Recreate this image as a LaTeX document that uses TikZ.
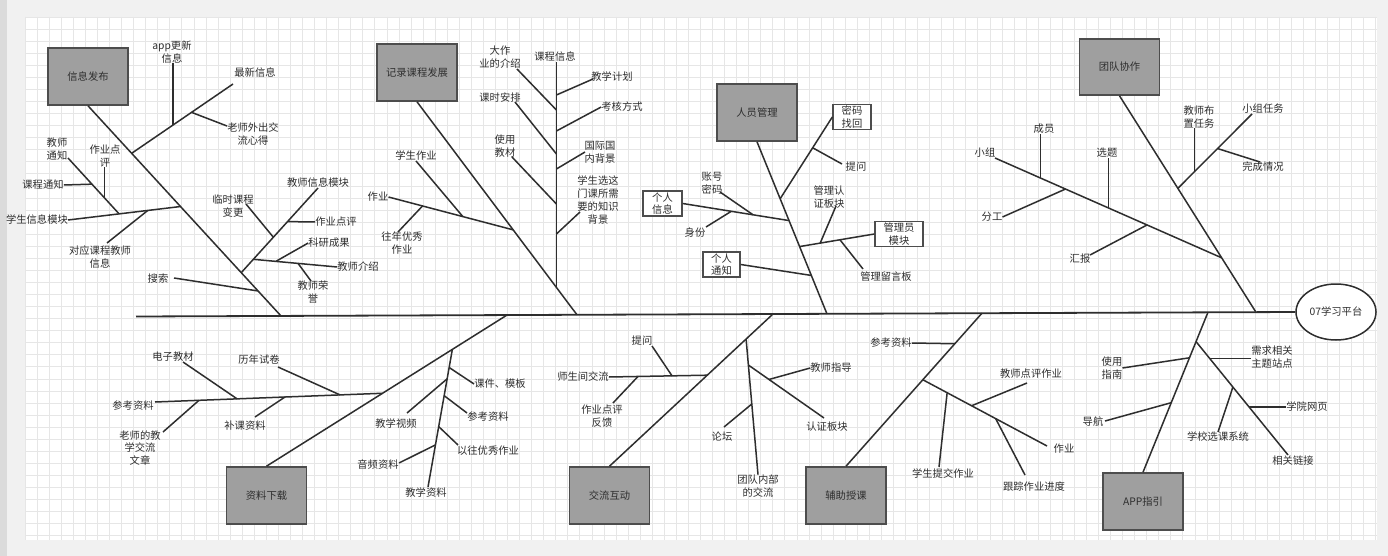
\documentclass[tikz,border=0pt]{standalone}
\usepackage{fontspec}
\newfontfamily\cjk{Noto Sans CJK SC}
\usepackage{tikz}
\usetikzlibrary{calc,positioning,shapes}
\definecolor{boxgray}{HTML}{9F9F9F}
\definecolor{edgegray}{HTML}{4D4D4D}
\definecolor{ink}{HTML}{2E2E2E}
\definecolor{gridgray}{HTML}{E6E6E6}
\definecolor{paper}{HTML}{F1F1F1}

\begin{document}
\begin{tikzpicture}[x=1pt,y=-1pt,
cat/.style={draw=edgegray,line width=1.6pt,fill=boxgray,minimum width=80pt,minimum height=57pt,font=\cjk\fontsize{10.3}{12.8}\selectfont,text=ink},
lbl/.style={font=\cjk\fontsize{10.3}{12.8}\selectfont,text=ink,align=center,inner sep=0pt},
tbox/.style={lbl,draw=edgegray,line width=1.4pt,fill=white,minimum height=25pt},
bone/.style={draw=ink,line width=1.5pt},
gridline/.style={draw=gridgray,line width=0.6pt}]
\useasboundingbox (0,0) rectangle (1388,556);
\fill[paper] (0,0) rectangle (1388,556);
\fill[black!14] (0,0) rectangle (7,556);
\fill[white] (25,17) rectangle (1377,540);
\foreach \i in {0,...,112}
  \draw[gridline] ({25+\i*12.06},17) -- ({25+\i*12.06},540);
\foreach \i in {0,...,43}
  \draw[gridline] (25,{17+\i*12.06}) -- (1377,{17+\i*12.06});

\node (plat) at (1336,312)[lbl,ellipse,draw=ink,line width=1.5pt,fill=white,minimum width=80pt,minimum height=56pt] {07学习平台};
\coordinate (tail) at (136,316.5);
\draw[bone,line width=1.8pt] (tail) -- (plat.west);

\node (info) at (88,76.5)[cat] {信息发布};
\coordinate (s1) at ($(tail)!(281,315)!(plat.west)$);
\draw[bone] (info.south) -- (s1);

\node (l1a) at (255,73)[lbl] {最新信息};
\node (l1b) at (172,52)[lbl] {app更新\\信息};
\node (l1c) at (253,134)[lbl] {老师外出交\\流心得};
\coordinate (j1a) at ($(info.south)!(132,153)!(s1)$);
\coordinate (e1a) at (233,84);
\draw[bone] (j1a) -- (e1a);
\coordinate (k1a) at ($(j1a)!(172,124)!(e1a)$);
\draw[bone] (k1a) -- (k1a |- l1b.south);
\coordinate (k1b) at ($(j1a)!(192,113)!(e1a)$);
\coordinate (e1b) at (227,126);
\draw[bone] (k1b) -- (e1b);

\node (l1d) at (37,220)[lbl] {学生信息模块};
\node (l1e) at (57,149)[lbl] {教师\\通知};
\node (l1f) at (43,185)[lbl] {课程通知};
\node (l1g) at (105,156)[lbl] {作业点\\评};
\node (l1h) at (100,257)[lbl] {对应课程教师\\信息};
\coordinate (j1b) at ($(info.south)!(180,207)!(s1)$);
\draw[bone] (j1b) -- (l1d.east);
\coordinate (k1c) at ($(j1b)!(119,213)!(l1d.east)$);
\coordinate (e1c) at (68,158);
\draw[bone] (k1c) -- (e1c);
\coordinate (m1a) at ($(k1c)!(91,185)!(e1c)$);
\draw[bone] (m1a) -- (l1f.east);
\coordinate (m1b) at ($(k1c)!(104,198)!(e1c)$);
\draw[bone] (m1b) -- (m1b |- l1g.south);
\coordinate (k1d) at ($(j1b)!(148,212)!(l1d.east)$);
\coordinate (e1d) at (107,243);
\draw[bone] (k1d) -- (e1d);

\node (l1i) at (318,183)[lbl] {教师信息模块};
\node (l1j) at (233,206)[lbl] {临时课程\\变更};
\node (l1k) at (336,222)[lbl] {作业点评};
\node (l1l) at (358,267)[lbl] {教师介绍};
\node (l1m) at (329,243)[lbl] {科研成果};
\node (l1n) at (313,292)[lbl] {教师荣\\誉};
\coordinate (j1c) at ($(info.south)!(242,272)!(s1)$);
\draw[bone] (j1c) -- (l1i.south);
\coordinate (k1e) at ($(j1c)!(272,236)!(l1i.south)$);
\coordinate (e1e) at (246,204);
\draw[bone] (k1e) -- (e1e);
\coordinate (k1f) at ($(j1c)!(288,222)!(l1i.south)$);
\draw[bone] (k1f) -- (l1k.west);
\coordinate (k1g) at ($(j1c)!(253,259)!(l1i.south)$);
\draw[bone] (k1g) -- (l1l.west);
\coordinate (m1c) at ($(k1g)!(276,260)!(l1l.west)$);
\draw[bone] (m1c) -- (l1m.west);
\coordinate (m1d) at ($(k1g)!(298,264)!(l1l.west)$);
\coordinate (e1f) at (311,281);
\draw[bone] (m1d) -- (e1f);

\node (l1o) at (158,279)[lbl] {搜索};
\coordinate (j1e) at ($(info.south)!(257,292)!(s1)$);
\coordinate (e1g) at (174,278);
\draw[bone] (j1e) -- (e1g);

\node (course) at (417,72.5)[cat] {记录课程发展};
\coordinate (s2) at ($(tail)!(577,315)!(plat.west)$);
\draw[bone] (course.south) -- (s2);

\node (l2a) at (378,197)[lbl] {作业};
\node (l2b) at (416,156)[lbl] {学生作业};
\node (l2c) at (402,243)[lbl] {往年优秀\\作业};
\coordinate (j2a) at ($(course.south)!(513,230)!(s2)$);
\draw[bone] (j2a) -- (l2a.east);
\coordinate (k2a) at ($(j2a)!(463,216)!(l2a.east)$);
\draw[bone] (k2a) -- (l2b.south);
\coordinate (k2b) at ($(j2a)!(422,208)!(l2a.east)$);
\coordinate (e2b) at (398,232);
\draw[bone] (k2b) -- (e2b);

\node (l2d) at (555,57)[lbl] {课程信息};
\node (l2e) at (500,57)[lbl] {大作\\业的介绍};
\node (l2f) at (500,98)[lbl] {课时安排};
\node (l2g) at (505,146)[lbl] {使用\\教材};
\node (l2h) at (612,77)[lbl] {教学计划};
\node (l2i) at (622,107)[lbl] {考核方式};
\node (l2j) at (600,152)[lbl] {国际国\\内背景};
\node (l2k) at (598,200)[lbl] {学生选这\\门课所需\\要的知识\\背景};
\coordinate (j2b) at ($(course.south)!(557,287)!(s2)$);
\coordinate (t2) at (j2b |- l2d.south);
\draw[bone] (j2b) -- (t2);
\coordinate (k2c) at ($(j2b)!(557,110)!(t2)$);
\coordinate (e2c) at (517,69);
\draw[bone] (k2c) -- (e2c);
\coordinate (k2d) at ($(j2b)!(558,154)!(t2)$);
\coordinate (e2d) at (515,102);
\draw[bone] (k2d) -- (e2d);
\coordinate (k2e) at ($(j2b)!(557,204)!(t2)$);
\coordinate (e2e) at (512,157);
\draw[bone] (k2e) -- (e2e);
\coordinate (k2f) at ($(j2b)!(558,95)!(t2)$);
\coordinate (e2f) at (593,79);
\draw[bone] (k2f) -- (e2f);
\coordinate (k2g) at ($(j2b)!(558,131)!(t2)$);
\draw[bone] (k2g) -- (l2i.west);
\coordinate (k2h) at ($(j2b)!(558,169)!(t2)$);
\coordinate (e2h) at (585,152);
\draw[bone] (k2h) -- (e2h);
\coordinate (k2i) at ($(j2b)!(558,234)!(t2)$);
\coordinate (e2i) at (580,212);
\draw[bone] (k2i) -- (e2i);

\node (staff) at (757,112.5)[cat] {人员管理};
\coordinate (s3) at ($(tail)!(827,316)!(plat.west)$);
\draw[bone] (staff.south) -- (s3);

\node (pwd) at (852,117)[tbox,minimum width=38pt] {密码\\找回};
\node (l3a) at (856,167)[lbl] {提问};
\node (self) at (662.5,203.5)[tbox,minimum width=39pt] {个人\\信息};
\node (l3b) at (712,183)[lbl] {账号\\密码};
\node (l3c) at (695,233)[lbl] {身份};
\node (admin) at (899,234)[tbox,minimum width=48pt] {管理员\\模块};
\node (l3d) at (829,197)[lbl] {管理认\\证板块};
\node (l3e) at (886,277)[lbl] {管理留言板};
\node (msg) at (721.5,264.5)[tbox,minimum width=37pt] {个人\\通知};
\coordinate (j3a) at ($(staff.south)!(782,198)!(s3)$);
\draw[bone] (j3a) -- (pwd.west);
\coordinate (k3a) at ($(j3a)!(813,148)!(pwd.west)$);
\coordinate (e3a) at (842,164);
\draw[bone] (k3a) -- (e3a);
\coordinate (j3b) at ($(staff.south)!(788,221)!(s3)$);
\draw[bone] (j3b) -- (self.east);
\coordinate (k3b) at ($(j3b)!(753,215)!(self.east)$);
\coordinate (e3b) at (720,192);
\draw[bone] (k3b) -- (e3b);
\coordinate (k3c) at ($(j3b)!(731,213)!(self.east)$);
\coordinate (e3c) at (706,227);
\draw[bone] (k3c) -- (e3c);
\coordinate (j3c) at ($(staff.south)!(801,246)!(s3)$);
\draw[bone] (j3c) -- (admin.west);
\coordinate (k3d) at ($(j3c)!(820,242)!(admin.west)$);
\coordinate (e3d) at (836,206);
\draw[bone] (k3d) -- (e3d);
\coordinate (k3e) at ($(j3c)!(840,240)!(admin.west)$);
\coordinate (e3e) at (863,269);
\draw[bone] (k3e) -- (e3e);
\coordinate (j3d) at ($(staff.south)!(810,276)!(s3)$);
\draw[bone] (j3d) -- (msg.east);

\node (team) at (1119.5,67)[cat,minimum height=56pt] {团队协作};
\coordinate (s4) at ($(tail)!(1256,312)!(plat.west)$);
\draw[bone] (team.south) -- (s4);

\node (l4a) at (985,153)[lbl] {小组};
\node (l4b) at (1044,129)[lbl] {成员};
\node (l4c) at (1107,153)[lbl] {选题};
\node (l4d) at (992,217)[lbl] {分工};
\node (l4e) at (1080,259)[lbl] {汇报};
\node (l4f) at (1263,109)[lbl] {小组任务};
\node (l4g) at (1199,117)[lbl] {教师布\\置任务};
\node (l4h) at (1263,167)[lbl] {完成情况};
\coordinate (j4a) at ($(team.south)!(1223,257)!(s4)$);
\coordinate (e4a) at (995,158);
\draw[bone] (j4a) -- (e4a);
\coordinate (k4a) at ($(j4a)!(1041,177)!(e4a)$);
\draw[bone] (k4a) -- (k4a |- l4b.south);
\coordinate (k4b) at ($(j4a)!(1109,207)!(e4a)$);
\draw[bone] (k4b) -- (k4b |- l4c.south);
\coordinate (k4c) at ($(j4a)!(1065,190)!(e4a)$);
\draw[bone] (k4c) -- (l4d.east);
\coordinate (k4d) at ($(j4a)!(1147,225)!(e4a)$);
\coordinate (e4d) at (1090,255);
\draw[bone] (k4d) -- (e4d);
\coordinate (j4b) at ($(team.south)!(1180,187)!(s4)$);
\coordinate (e4b) at (1252,114);
\draw[bone] (j4b) -- (e4b);
\coordinate (k4e) at ($(j4b)!(1195,172)!(e4b)$);
\draw[bone] (k4e) -- (k4e |- l4g.south);
\coordinate (k4f) at ($(j4b)!(1218,149)!(e4b)$);
\coordinate (e4f) at (1260,162);
\draw[bone] (k4f) -- (e4f);

\node (down) at (266.5,495.5)[cat] {资料下载};
\coordinate (s5) at ($(tail)!(507,316)!(plat.west)$);
\draw[bone] (down.north) -- (s5);

\node (l5a) at (133,406)[lbl] {参考资料};
\node (l5b) at (173,357)[lbl] {电子教材};
\node (l5c) at (259,360)[lbl] {历年试卷};
\node (l5d) at (140,448)[lbl] {老师的教\\学交流\\文章};
\node (l5e) at (245,426)[lbl] {补课资料};
\coordinate (j5a) at ($(down.north)!(383,394)!(s5)$);
\coordinate (e5a) at (155,402);
\draw[bone] (j5a) -- (e5a);
\coordinate (k5a) at ($(j5a)!(237,397)!(e5a)$);
\coordinate (e5b) at (183,362);
\draw[bone] (k5a) -- (e5b);
\coordinate (k5b) at ($(j5a)!(340,394)!(e5a)$);
\coordinate (e5c) at (278,367);
\draw[bone] (k5b) -- (e5c);
\coordinate (k5c) at ($(j5a)!(199,401)!(e5a)$);
\coordinate (e5d) at (163,432);
\draw[bone] (k5c) -- (e5d);
\coordinate (k5d) at ($(j5a)!(285,398)!(e5a)$);
\coordinate (e5e) at (255,417);
\draw[bone] (k5d) -- (e5e);

\node (l5f) at (426,493)[lbl] {教学资料};
\node (l5g) at (500,384)[lbl] {课件、模板};
\node (l5h) at (396,424)[lbl] {教学视频};
\node (l5i) at (488,417)[lbl] {参考资料};
\node (l5j) at (488,451)[lbl] {以往优秀作业};
\node (l5k) at (378,465)[lbl] {音频资料};
\coordinate (j5b) at ($(down.north)!(454,352)!(s5)$);
\coordinate (e5f) at (428,487);
\draw[bone] (j5b) -- (e5f);
\coordinate (k5e) at ($(j5b)!(452,368)!(e5f)$);
\draw[bone] (k5e) -- (l5g.west);
\coordinate (k5f) at ($(j5b)!(448,379)!(e5f)$);
\coordinate (e5h) at (407,413);
\draw[bone] (k5f) -- (e5h);
\coordinate (k5g) at ($(j5b)!(446,396)!(e5f)$);
\coordinate (e5i) at (467,413);
\draw[bone] (k5g) -- (e5i);
\coordinate (k5h) at ($(j5b)!(441,427)!(e5f)$);
\coordinate (e5j) at (458,445);
\draw[bone] (k5h) -- (e5j);
\coordinate (k5i) at ($(j5b)!(436,445)!(e5f)$);
\coordinate (e5k) at (399,463);
\draw[bone] (k5i) -- (e5k);

\node (talk) at (609.5,495.5)[cat] {交流互动};
\coordinate (s6) at ($(tail)!(773,316)!(plat.west)$);
\draw[bone] (talk.north) -- (s6);

\node (l6a) at (583,377)[lbl] {师生间交流};
\node (l6b) at (642,341)[lbl] {提问};
\node (l6c) at (602,416)[lbl] {作业点评\\反馈};
\coordinate (j6a) at ($(talk.north)!(708,376)!(s6)$);
\draw[bone] (j6a) -- (l6a.east);
\coordinate (k6a) at ($(j6a)!(672,376)!(l6a.east)$);
\coordinate (e6a) at (652,346);
\draw[bone] (k6a) -- (e6a);
\coordinate (k6b) at ($(j6a)!(638,378)!(l6a.east)$);
\coordinate (e6b) at (613,403);
\draw[bone] (k6b) -- (e6b);

\node (l6d) at (758,486)[lbl] {团队内部\\的交流};
\node (l6e) at (722,437)[lbl] {论坛};
\node (l6f) at (827,427)[lbl] {认证板块};
\node (l6g) at (831,368)[lbl] {教师指导};
\coordinate (j6b) at ($(talk.north)!(747,340)!(s6)$);
\draw[bone] (j6b) -- (l6d.north);
\coordinate (k6c) at ($(j6b)!(752,404)!(l6d.north)$);
\coordinate (e6c) at (724,427);
\draw[bone] (k6c) -- (e6c);
\coordinate (k6d) at ($(j6b)!(749,365)!(l6d.north)$);
\coordinate (e6d) at (824,418);
\draw[bone] (k6d) -- (e6d);
\coordinate (m6a) at ($(k6d)!(770,378)!(e6d)$);
\draw[bone] (m6a) -- (l6g.west);

\node (assist) at (846,495.5)[cat] {辅助授课};
\coordinate (s7) at ($(tail)!(982,313)!(plat.west)$);
\draw[bone] (assist.north) -- (s7);

\node (l7a) at (891,343)[lbl] {参考资料};
\node (l7b) at (1064,449)[lbl] {作业};
\node (l7c) at (943,474)[lbl] {学生提交作业};
\node (l7d) at (1031,374)[lbl] {教师点评作业};
\node (l7e) at (1034,487)[lbl] {跟踪作业进度};
\coordinate (j7a) at ($(assist.north)!(954,343)!(s7)$);
\draw[bone] (j7a) -- (l7a.east);
\coordinate (j7b) at ($(assist.north)!(922,379)!(s7)$);
\coordinate (e7b) at (1047,446);
\draw[bone] (j7b) -- (e7b);
\coordinate (k7a) at ($(j7b)!(947,393)!(e7b)$);
\coordinate (e7c) at (939,467);
\draw[bone] (k7a) -- (e7c);
\coordinate (k7b) at ($(j7b)!(972,405)!(e7b)$);
\coordinate (e7d) at (1027,383);
\draw[bone] (k7b) -- (e7d);
\coordinate (k7c) at ($(j7b)!(996,418)!(e7b)$);
\coordinate (e7e) at (1025,475);
\draw[bone] (k7c) -- (e7e);

\node (app) at (1143,501.5)[cat] {APP指引};
\coordinate (s8) at ($(tail)!(1208,313)!(plat.west)$);
\draw[bone] (app.north) -- (s8);

\node (l8a) at (1112,368)[lbl] {使用\\指南};
\node (l8b) at (1093,422)[lbl] {导航};
\node (l8c) at (1293,461)[lbl] {相关链接};
\node (l8d) at (1272,357)[lbl] {需求相关\\主题站点};
\node (l8e) at (1218,437)[lbl] {学校选课系统};
\node (l8f) at (1307,407)[lbl] {学院网页};
\coordinate (j8a) at ($(app.north)!(1190,358)!(s8)$);
\draw[bone] (j8a) -- (l8a.east);
\coordinate (j8b) at ($(app.north)!(1172,403)!(s8)$);
\coordinate (e8b) at (1105,421);
\draw[bone] (j8b) -- (e8b);
\coordinate (j8c) at ($(app.north)!(1197,342)!(s8)$);
\coordinate (e8c) at (1288,455);
\draw[bone] (j8c) -- (e8c);
\coordinate (k8a) at ($(j8c)!(1212,357)!(e8c)$);
\draw[bone] (k8a) -- (k8a -| l8d.west);
\coordinate (k8b) at ($(j8c)!(1233,387)!(e8c)$);
\draw[bone] (k8b) -- (l8e.north);
\coordinate (k8c) at ($(j8c)!(1250,406)!(e8c)$);
\draw[bone] (k8c) -- (k8c -| l8f.west);
\end{tikzpicture}
\end{document}
